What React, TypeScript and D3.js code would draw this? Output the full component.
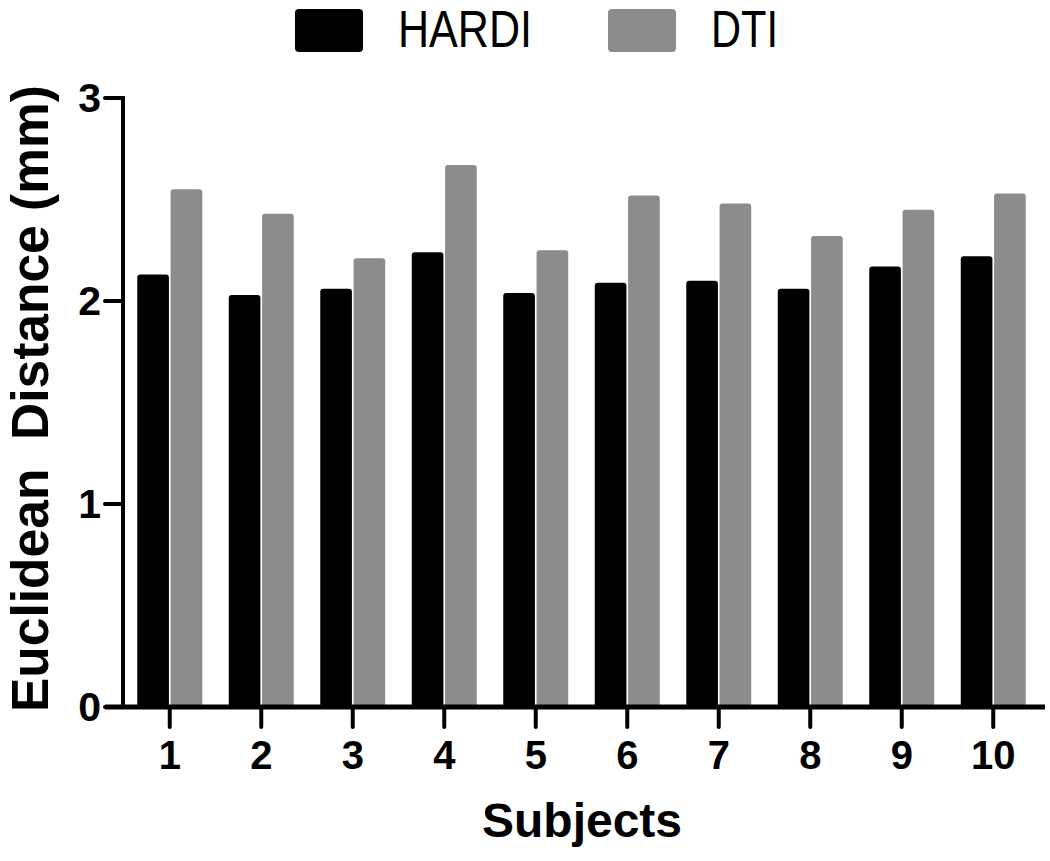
import React from "react";
import * as d3 from "d3";

const subjects = ["1", "2", "3", "4", "5", "6", "7", "8", "9", "10"];
const seriesNames = ["HARDI", "DTI"];
const hardi = [2.13, 2.03, 2.06, 2.24, 2.04, 2.09, 2.1, 2.06, 2.17, 2.22];
const dti = [2.55, 2.43, 2.21, 2.67, 2.25, 2.52, 2.48, 2.32, 2.45, 2.53];
const yTicks = [0, 1, 2, 3];
const colors = ["#000000", "#8c8c8c"];

const W = 1050;
const H = 861;
const FONT = "'Liberation Sans', Arial, Helvetica, sans-serif";

export default function App() {
  const x = d3
    .scaleBand<string>()
    .domain(subjects)
    .range([124, 1039])
    .paddingInner(0.29)
    .paddingOuter(0.145);
  const xs = d3
    .scaleBand<string>()
    .domain(seriesNames)
    .range([0, x.bandwidth()])
    .paddingInner(0.05);
  const y = d3.scaleLinear().domain([0, 3]).range([707, 98]);
  const values = [hardi, dti];
  const axisX = 123;
  const baseY = y(0);
  const legendText = [134, 67];

  return (
    <svg
      width={W}
      height={H}
      style={{ position: "absolute", left: 0, top: 0, background: "#fff" }}
      fontFamily={FONT}
    >
      {/* bars */}
      {subjects.map((s, i) =>
        seriesNames.map((name, k) => {
          const v = values[k][i];
          const top = y(v);
          return (
            <rect
              key={s + name}
              x={(x(s) as number) + (xs(name) as number)}
              y={top}
              width={xs.bandwidth()}
              height={baseY - top}
              rx={3}
              ry={3}
              fill={colors[k]}
            />
          );
        })
      )}
      {/* y axis */}
      <line x1={axisX} x2={axisX} y1={y(3) - 2} y2={baseY} stroke="#000" strokeWidth={4} />
      {yTicks.map((t) => (
        <g key={t}>
          <line x1={105} x2={axisX} y1={y(t)} y2={y(t)} stroke="#000" strokeWidth={4} strokeLinecap="round" />
          <text
            x={101}
            y={y(t)}
            textAnchor="end"
            dominantBaseline="central"
            fontSize={41}
            fontWeight="bold"
          >
            {t}
          </text>
        </g>
      ))}
      {/* x axis */}
      <line x1={105} x2={1045} y1={baseY} y2={baseY} stroke="#000" strokeWidth={5} />
      {subjects.map((s) => {
        const cx = (x(s) as number) + x.bandwidth() / 2;
        return (
          <g key={s}>
            <line x1={cx} x2={cx} y1={baseY} y2={baseY + 20} stroke="#000" strokeWidth={4} strokeLinecap="round" />
            <text x={cx} y={769} textAnchor="middle" fontSize={40} fontWeight="bold">
              {s}
            </text>
          </g>
        );
      })}
      {/* axis titles */}
      <text x={582} y={837} textAnchor="middle" fontSize={48} fontWeight="bold">
        Subjects
      </text>
      <text
        transform={`translate(48, ${(85 + 712) / 2}) rotate(-90)`}
        textAnchor="middle"
        fontSize={51}
        fontWeight="bold"
        textLength={627}
        lengthAdjust="spacingAndGlyphs"
        style={{ whiteSpace: "pre" }}
      >
        {"Euclidean  Distance (mm)"}
      </text>
      {/* legend */}
      {seriesNames.map((name, k) => {
        const lx = k === 0 ? 295 : 608;
        return (
          <g key={name}>
            <rect x={lx} y={9} width={68} height={43} rx={4} ry={4} fill={colors[k]} />
            <text
              x={lx + 103}
              y={47}
              fontSize={52}
              textLength={legendText[k]}
              lengthAdjust="spacingAndGlyphs"
            >
              {name}
            </text>
          </g>
        );
      })}
    </svg>
  );
}
